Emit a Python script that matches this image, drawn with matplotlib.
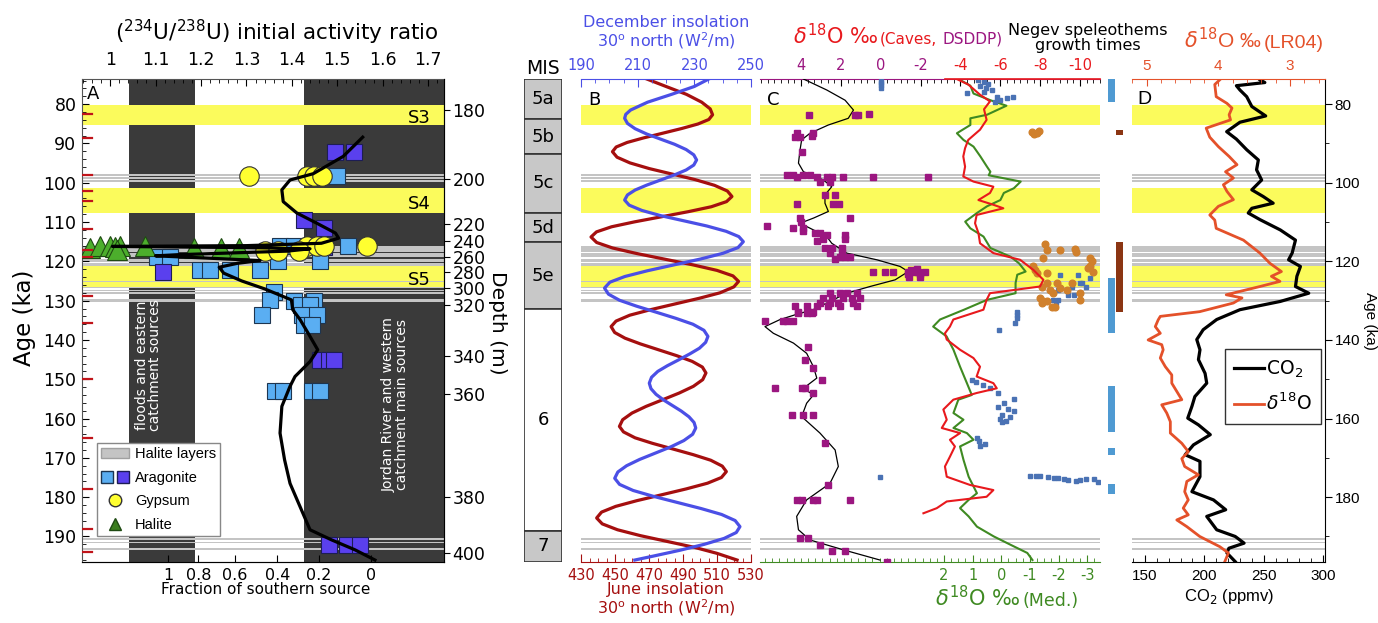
import matplotlib

matplotlib.use("Agg")
import matplotlib.pyplot as plt
import matplotlib.transforms as mtransforms
from matplotlib.legend_handler import HandlerTuple
from matplotlib.lines import Line2D
from matplotlib.patches import Patch, Rectangle
from matplotlib.ticker import MultipleLocator

plt.rcParams["font.family"] = ["DejaVu Sans"]
plt.rcParams["mathtext.fontset"] = "dejavusans"

W, H = 1378, 623
AGE_TOP, AGE_BOTTOM = 73.6, 196.5

# ---- shared layers (ka) ----
sand_layers = [(80.3, 85.4), (101.4, 107.6), (121.3, 126.5)]
sand_names = ["S3", "S4", "S5"]
halite_layers = [
    (97.8, 98.3), (98.6, 99.1), (99.4, 99.9),
    (116.1, 117.6), (117.9, 119.0), (119.3, 120.1), (120.4, 121.2),
    (124.9, 125.2), (126.5, 126.9), (127.2, 127.6), (127.9, 128.2),
    (129.6, 130.3),
    (190.3, 190.9), (191.3, 191.7), (192.9, 193.5),
]
mis_names = ["5a", "5b", "5c", "5d", "5e", "6", "7"]
mis_bounds = [73.6, 83.9, 92.6, 107.7, 115.2, 132.2, 188.6, 196.5]

# ---- panel A: (234U/238U) initial activity ratio ----
source_bands = [(1.042, 1.187), (1.427, 1.735)]
frac_labels = ["1", "0.8", "0.6", "0.4", "0.2", "0"]
frac_pos = [1.128, 1.194, 1.275, 1.368, 1.460, 1.575]
depth_labels = ["180", "200", "220", "240", "260", "280", "300", "320", "340", "360", "380", "400"]
depth_ages = [81.5, 99.0, 110.6, 114.9, 119.0, 122.8, 126.9, 131.1, 144.0, 153.7, 179.9, 194.2]
sample_ages = [82.5, 88.5, 98.0, 102.0, 104.6, 111.8, 117.0, 118.8, 128.8, 135.7, 150.0, 165.0, 178.0, 188.0, 194.0]

arag_light_age = [98.3, 116.0, 116.0, 116.0, 116.0, 118.8, 118.8, 119.8, 119.8, 122.3, 122.3, 122.3, 122.3,
                  127.7, 129.8, 130.2, 130.2, 131.1, 131.1, 133.6, 133.6, 133.6, 136.2, 136.2,
                  153.1, 153.1, 153.1, 153.1]
arag_light_ratio = [1.499, 1.374, 1.404, 1.463, 1.524, 1.103, 1.132, 1.370, 1.463, 1.198, 1.220, 1.264, 1.330,
                    1.360, 1.353, 1.404, 1.448, 1.420, 1.440, 1.334, 1.422, 1.455, 1.426, 1.444,
                    1.363, 1.381, 1.444, 1.462]
arag_dark_age = [92.2, 92.2, 109.6, 111.5, 116.4, 122.6, 145.1, 145.1, 145.1, 192.1, 192.1, 192.1]
arag_dark_ratio = [1.496, 1.536, 1.426, 1.470, 1.470, 1.117, 1.463, 1.481, 1.492, 1.481, 1.522, 1.551]
gypsum_age = [98.3, 98.3, 98.3, 98.3, 116.0, 116.0, 116.0, 116.0, 117.3, 117.3, 117.3]
gypsum_ratio = [1.305, 1.434, 1.449, 1.467, 1.434, 1.456, 1.471, 1.565, 1.340, 1.370, 1.416]
halite_age = [116.5, 116.2, 116.0, 116.3, 116.0, 117.0, 116.0, 116.6, 116.6, 116.6]
halite_ratio = [0.955, 0.978, 1.000, 1.011, 1.022, 1.015, 1.077, 1.184, 1.243, 1.283]
fit_age = [88.4, 93.3, 97.7, 99.3, 101.8, 104.8, 107.7, 110.3, 112.8, 114.1, 115.4, 116.0, 116.2, 116.5,
           116.8, 117.4, 118.3, 118.6, 119.1, 119.8, 120.5, 121.5, 123.0, 125.0, 127.0, 129.8, 132.3,
           134.8, 138.3, 142.5, 145.5, 149.3, 151.8, 156.9, 163.7, 170.5, 176.5, 182.4, 188.3, 190.9,
           193.4, 196.0]
fit_ratio = [1.556, 1.513, 1.447, 1.396, 1.378, 1.381, 1.411, 1.455, 1.496, 1.503, 1.465, 1.300, 1.005,
             1.300, 1.440, 1.390, 1.150, 1.100, 1.200, 1.330, 1.280, 1.240, 1.250, 1.290, 1.340, 1.399,
             1.402, 1.418, 1.436, 1.457, 1.440, 1.407, 1.396, 1.378, 1.374, 1.384, 1.396, 1.418, 1.440,
             1.488, 1.539, 1.583]

# ---- panel B: insolation at 30N (W/m2) ----
dec_age = [73.6, 75.5, 77.5, 79.5, 81.5, 82.6, 83.6,
           84.9, 86.25, 87.6, 88.9, 90.2, 91.55, 92.9, 94.2,
           95.5, 96.75, 98.0, 99.3, 100.6, 101.85, 103.1, 104.4,
           105.7, 107.05, 108.4, 109.7, 111.0, 112.35, 113.7, 115.0,
           116.5, 117.95, 119.4, 120.9, 122.4, 123.85, 125.3, 126.8,
           128.35, 129.9, 131.4, 132.95, 134.5, 136.0, 137.55, 139.1,
           140.6, 142.1, 143.55, 145.05, 146.55, 148.0, 149.5, 151.0,
           152.4, 153.85, 155.3, 156.7, 158.1, 159.55, 161.0, 162.4,
           164.0, 165.6, 167.2, 168.8, 170.4, 172.0, 173.6, 175.2,
           176.75, 178.3, 179.8, 181.35, 182.9, 184.4, 185.95, 187.5,
           189.0, 190.5, 192.0, 193.5, 195.0, 196.0]
dec_wm2 = [235.1, 230.0, 222.0, 213.5, 207.5, 205.8, 205.4,
           206.4, 209.1, 213.2, 218.1, 223.0, 227.1, 229.8, 230.8,
           229.8, 227.1, 223.0, 218.1, 213.2, 209.1, 206.4, 205.4,
           207.0, 211.5, 218.3, 226.4, 234.4, 241.2, 245.7, 247.3,
           245.4, 240.1, 232.2, 222.8, 213.4, 205.5, 200.2, 198.3,
           199.7, 203.6, 209.6, 216.6, 223.5, 229.5, 233.4, 234.8,
           234.0, 231.8, 228.4, 224.5, 220.5, 217.1, 214.9, 214.1,
           214.7, 216.5, 219.2, 222.3, 225.4, 228.1, 229.9, 230.5,
           229.4, 226.3, 221.7, 216.2, 210.7, 206.1, 203.0, 201.9,
           203.6, 208.4, 215.6, 224.0, 232.4, 239.6, 244.4, 246.1,
           244.8, 240.5, 233.5, 225.0, 215.5, 209.0]
jun_age = [73.6, 75.5, 77.5, 79.5, 81.2, 82.7,
           83.9, 85.05, 86.2, 87.4, 88.6, 89.75, 90.9, 92.1,
           93.5, 94.95, 96.4, 97.8, 99.2, 100.65, 102.1, 103.5,
           104.8, 106.1, 107.35, 108.65, 109.95, 111.2, 112.5, 113.8,
           115.2, 116.6, 118.0, 119.45, 120.9, 122.3, 123.7, 125.1,
           126.5, 128.0, 129.4, 130.85, 132.3, 133.7, 135.2, 136.6,
           138.1, 139.55, 141.0, 142.5, 144.0, 145.45, 146.9, 148.4,
           150.1, 151.8, 153.5, 155.2, 156.9, 158.6, 160.3, 162.0,
           163.4, 164.9, 166.3, 167.75, 169.2, 170.6, 172.1, 173.5,
           175.0, 176.45, 177.9, 179.4, 180.9, 182.35, 183.8, 185.3,
           186.8, 188.3, 189.8, 191.3, 192.8, 194.3, 196.0]
jun_wm2 = [468.7, 480.0, 492.0, 501.0, 506.0, 507.4,
           505.2, 498.8, 489.2, 478.0, 466.7, 457.1, 450.7, 448.5,
           451.2, 458.8, 470.2, 483.7, 497.1, 508.5, 516.1, 518.8,
           515.6, 506.7, 493.2, 477.4, 461.5, 448.0, 439.1, 435.9,
           439.2, 448.6, 462.7, 479.3, 495.9, 510.0, 519.4, 522.7,
           519.9, 511.8, 499.5, 485.2, 470.9, 458.7, 450.6, 447.7,
           449.8, 455.9, 464.9, 475.6, 486.3, 495.4, 501.4, 503.5,
           501.6, 496.1, 487.8, 478.1, 468.3, 460.0, 454.5, 452.6,
           455.0, 461.8, 472.0, 484.1, 496.1, 506.3, 513.1, 515.5,
           512.6, 504.4, 491.9, 477.4, 462.8, 450.4, 442.1, 439.2,
           442.5, 451.5, 465.0, 481.0, 497.0, 510.0, 521.8]

# ---- panel C: d18O records (per mil) ----
caves_age = [73.6, 75.0, 77.6, 79.3, 81.3, 84.0, 86.5, 89.1, 91.2, 93.3, 95.9, 98.4, 99.7, 101.0, 102.6,
             104.4, 105.6, 106.5, 108.2, 110.3, 112.8, 115.4, 117.9, 119.6, 122.2, 124.7, 126.4, 128.1,
             129.8, 132.3, 134.8, 136.6, 138.3, 139.9, 142.5, 144.6, 146.8, 149.3, 151.0, 152.3, 153.5,
             155.2, 157.7, 160.3, 162.4, 163.7, 165.4, 167.1, 169.7, 172.2, 174.8, 176.9, 178.2, 179.9,
             181.1, 182.8, 184.1]
caves_d18o = [-3.81, -4.39, -4.98, -5.48, -5.18, -5.31, -4.98, -4.39, -4.23, -4.14, -4.23, -4.14, -4.65,
              -5.65, -5.48, -4.90, -5.65, -6.15, -4.81, -4.73, -4.90, -4.98, -5.65, -6.99, -7.66, -8.16,
              -7.99, -5.48, -5.31, -5.15, -3.64, -3.47, -3.22, -3.31, -3.98, -4.65, -4.98, -4.81, -5.65,
              -5.82, -4.81, -3.64, -3.14, -3.31, -3.06, -3.98, -3.47, -3.72, -3.47, -3.22, -3.31, -4.48,
              -5.65, -5.31, -3.31, -2.81, -2.14]
med_age = [73.6, 75.3, 77.3, 79.0, 80.4, 82.7, 83.6, 85.3, 87.4, 89.1, 90.8, 93.3, 95.9, 97.2, 98.1, 99.7,
           101.4, 102.6, 104.4, 106.0, 107.7, 109.9, 111.6, 113.7, 116.6, 118.8, 120.5, 122.6, 123.4,
           125.5, 128.1, 129.8, 132.3, 134.8, 136.6, 139.1, 142.5, 146.8, 151.0, 154.0, 155.2, 158.6,
           160.3, 162.4, 163.7, 165.4, 167.1, 170.5, 174.8, 179.0, 180.7, 182.8, 184.9, 187.5, 190.0,
           192.1, 194.2, 196.0]
med_d18o = [1.50, 1.08, 0.97, 0.38, -0.18, 0.50, 1.08, 1.08, 1.55, 1.32, 0.97, 0.73, 0.50, 0.38, 0.44,
            -0.68, -0.44, -0.09, 0.03, 0.50, 0.85, 1.26, 1.08, 0.62, 0.38, -0.32, -0.62, -0.85, -0.56,
            -0.50, -0.50, 0.50, 1.30, 2.14, 2.38, 1.91, 1.67, 1.44, 1.20, 1.03, 1.50, 1.67, 1.32, 1.67,
            1.20, 0.97, 1.44, 1.32, 1.14, 0.85, 1.14, 1.44, 1.14, 0.85, 0.26, -0.32, -0.91, -1.09]
dsddp_age = [82.7, 82.7, 82.7, 82.4, 87.4, 87.4, 88.4, 88.4, 88.0, 92.1,
             98.0, 98.0, 98.0, 98.0, 98.6, 98.6, 98.6, 98.6, 98.6, 98.6, 98.6, 99.7, 99.7,
             103.1, 103.1, 105.4, 105.4, 105.4,
             109.0, 109.0, 109.9, 111.0, 111.6, 111.6, 112.4, 112.8, 112.8, 113.4, 113.4, 114.3, 114.3, 114.9,
             116.6, 116.6, 116.6, 117.9, 117.9, 118.8, 118.8, 118.8, 119.4,
             122.8, 122.8, 122.8, 122.6, 122.6, 122.6, 122.6, 123.3, 123.3, 122.2, 124.0, 124.0, 121.9,
             128.1, 128.1, 128.1, 128.1, 129.3, 129.3, 129.3, 129.3, 129.3, 130.6, 130.6, 130.6, 130.6,
             131.4, 131.4, 131.4, 131.4, 131.4, 131.4, 132.8, 132.8, 132.8,
             133.2, 133.2, 133.2, 135.3, 135.3, 135.3, 135.3,
             141.7, 145.1, 147.2, 150.2, 152.3, 152.3, 152.3, 153.5, 159.1, 159.1, 159.1, 166.3, 176.9,
             180.7, 180.7, 180.7, 180.7, 180.7, 190.4, 190.4, 192.1, 193.8, 193.8, 196.4]
dsddp_d18o = [3.60, 1.29, 1.12, 0.59, 3.38, 4.22, 4.30, 4.05, 3.46, 3.93,
              4.72, 4.38, 3.88, 3.55, 4.22, 3.21, 2.71, 2.46, 1.88, 0.37, -2.39, 3.05, 2.55,
              2.29, 2.80, 4.18, 2.38, 2.09,
              1.54, 4.05, 4.00, 5.72, 4.38, 3.88, 3.88, 3.30, 3.05, 2.71, 1.79, 2.88, 1.79, 3.21,
              2.80, 2.46, 1.96, 2.55, 1.96, 2.04, 1.79, 1.54, 2.30,
              0.37, -0.21, -0.63, -1.38, -1.64, -1.89, -2.22, -1.38, -1.97, -1.50, -1.40, -1.97, -1.80,
              2.55, 2.04, 1.71, 1.21, 2.88, 2.46, 1.88, 1.46, 1.04, 3.05, 2.55, 2.13, 1.37,
              4.30, 3.72, 3.21, 2.63, 2.04, 1.21, 4.13, 3.63, 3.38,
              4.13, 3.72, 3.46, 5.81, 4.89, 4.72, 4.38,
              3.63, 3.80, 3.38, 2.96, 5.30, 3.97, 3.80, 3.38, 4.47, 3.88, 3.38, 2.80, 2.63,
              4.22, 3.97, 3.38, 3.21, 1.54, 4.05, 3.63, 3.05, 2.46, 1.79, -0.30]
dsddp_fit_age = [73.6, 76.4, 79.0, 81.5, 83.6, 85.3, 87.4, 89.1, 91.6, 95.0, 97.2, 99.3, 101.0, 103.1,
                 105.2, 107.3, 109.0, 110.3, 112.0, 113.7, 115.4, 117.9, 119.6, 121.3, 122.6, 124.7, 126.4,
                 128.1, 130.6, 132.3, 133.6, 134.8, 136.6, 138.3, 140.8, 143.4, 146.8, 149.7, 152.3, 154.0,
                 156.1, 159.5, 163.7, 168.0, 172.2, 176.5, 180.7, 184.9, 188.3, 190.9, 193.4, 196.0]
dsddp_fit = [3.88, 2.71, 1.79, 1.37, 1.63, 2.63, 3.55, 3.97, 4.05, 4.13, 3.88, 2.88, 2.46, 2.80, 2.80, 2.63,
             3.38, 4.05, 3.38, 2.71, 2.46, 1.71, 0.20, -0.97, -1.38, -0.72, 0.54, 1.71, 2.71, 3.40, 4.30,
             5.05, 5.81, 5.39, 4.38, 3.72, 3.38, 3.21, 3.88, 3.38, 3.72, 3.97, 3.05, 2.29, 2.13, 2.55,
             3.72, 4.22, 4.13, 3.55, 1.88, 0.04]
soreq_age = [74.0, 74.6, 75.2, 75.8,
             73.9, 74.3, 74.8, 75.3, 75.9, 76.3, 76.8, 77.2, 78.1, 78.4, 78.1, 79.0, 79.4,
             123.4, 123.4, 124.3, 125.6, 125.6, 126.4, 126.4, 127.3, 128.5, 128.5, 129.8, 129.8, 130.6,
             132.8, 133.6, 134.4, 135.7, 137.4,
             150.2, 150.8, 151.5, 152.3,
             153.5, 155.0, 156.0, 157.0, 157.5, 158.0, 159.0, 159.5, 160.0, 160.5, 161.0,
             165.0, 165.8, 166.5, 167.0, 174.8,
             174.5, 174.6, 174.7, 174.8, 175.0, 175.2, 175.3, 175.6, 175.8, 175.6, 175.3, 175.3, 176.2]
soreq_d18o = [0.0, 0.0, 0.0, 0.0,
              -4.9, -5.2, -5.4, -5.0, -5.3, -5.6, -5.2, -4.31, -5.82, -6.32, -6.62, -5.98, -5.73,
              -9.0, -9.9, -10.5, -10.0, -10.1, -9.6, -10.3, -8.9, -9.4, -9.7, -8.66, -8.9, -8.8,
              -6.82, -6.82, -6.82, -6.74, -5.95,
              -4.56, -4.8, -5.15, -5.48,
              -5.9, -6.7, -6.2, -5.9, -6.4, -6.7, -6.1, -6.5, -6.0, -6.3, -6.1,
              -4.81, -4.95, -5.23, -5.0, 0.04,
              -7.5, -7.8, -8.0, -8.4, -8.7, -8.9, -9.2, -9.4, -9.8, -10.0, -10.3, -10.7, -10.9]
negev_age = [87.1, 87.4, 86.9, 87.6,
             115.5, 117.2, 117.2, 116.8, 117.6, 119.2, 119.2, 120.0,
             121.3, 121.3, 122.2, 123.0, 123.0, 122.6, 121.8,
             125.6, 125.6, 125.6, 126.4, 127.3, 128.1, 126.8, 127.3, 128.1,
             129.4, 130.2, 130.2, 131.5, 131.5, 129.8, 130.6]
negev_d18o = [-7.57, -7.82, -7.95, -7.70,
              -8.24, -8.32, -9.0, -9.74, -9.82, -8.16, -10.5, -10.6,
              -7.66, -10.5, -7.74, -7.82, -8.32, -10.67, -10.4,
              -8.32, -8.83, -9.58, -8.07, -8.49, -8.66, -8.99, -9.33, -10.0,
              -7.99, -8.16, -8.32, -8.57, -8.74, -10.0, -8.1]
growth_blue = [(73.7, 79.5), (124.3, 138.3), (151.7, 163.3), (167.5, 169.2), (176.7, 179.2)]
growth_brown = [(86.7, 87.8), (115.0, 132.8)]

# ---- panel D: CO2 and LR04 ----
co2_age = [73.8, 74.5, 75.3, 76.4, 78.1, 80.6, 83.0, 84.6, 87.0, 88.9, 91.6, 94.2, 96.7, 99.3, 101.8,
           103.5, 105.2, 106.5, 107.7, 109.4, 112.0, 114.6, 117.9, 119.6, 121.3, 123.8, 126.4, 128.1,
           130.2, 132.3, 134.8, 137.4, 139.9, 142.5, 145.0, 148.5, 151.0, 154.4, 156.9, 159.9, 161.6,
           164.1, 166.7, 169.2, 170.9, 174.8, 178.6, 180.7, 183.2, 184.9, 188.3, 190.0, 191.7, 193.0,
           194.2, 196.4]
co2_ppmv = [246.9, 251.0, 227.0, 230.0, 235.7, 240.0, 251.7, 230.0, 218.8, 227.0, 235.7, 245.5, 244.0,
            248.3, 240.0, 249.6, 258.0, 240.0, 237.0, 247.0, 264.0, 276.8, 274.0, 271.0, 281.0, 278.0,
            276.8, 288.0, 264.0, 230.0, 210.4, 199.0, 193.6, 196.3, 195.0, 200.6, 202.0, 192.0, 189.5,
            186.0, 195.0, 205.0, 190.8, 183.8, 196.3, 196.3, 189.5, 207.7, 218.0, 202.0, 210.4, 226.0,
            233.5, 220.7, 219.0, 226.0]
lr04_age = [73.8, 75.0, 78.1, 79.8, 81.0, 82.7, 84.0, 86.1, 88.4, 90.8, 93.3, 95.4, 97.2, 98.8, 100.5,
            102.2, 104.3, 106.0, 108.2, 109.5, 111.6, 114.6, 117.9, 120.5, 122.6, 123.8, 125.1, 126.4,
            128.5, 129.3, 130.6, 132.8, 134.0, 134.9, 136.6, 138.3, 140.0, 141.2, 142.5, 144.6, 146.8,
            148.9, 151.0, 153.1, 155.2, 156.5, 158.6, 160.8, 163.7, 166.3, 168.4, 170.2, 172.2, 174.3,
            176.0, 178.6, 180.7, 182.8, 184.5, 185.8, 187.5, 190.0, 192.6, 194.2, 196.4]
lr04_d18o = [3.98, 4.05, 4.03, 3.88, 3.81, 3.85, 3.83, 4.17, 4.12, 4.00, 3.85, 3.74, 3.90, 3.79, 3.93,
             3.88, 3.79, 4.00, 4.12, 4.05, 4.03, 3.65, 3.42, 3.28, 3.12, 3.26, 3.14, 3.42, 3.89, 3.67,
             3.79, 4.26, 4.81, 4.84, 4.88, 4.81, 4.98, 4.79, 4.77, 4.81, 4.74, 4.65, 4.65, 4.58, 4.51,
             4.79, 4.72, 4.67, 4.67, 4.51, 4.42, 4.51, 4.47, 4.28, 4.44, 4.47, 4.42, 4.49, 4.42, 4.58,
             4.44, 4.26, 3.98, 3.86, 3.91]

YELLOW = "#fbfb5c"
HALITE = "#c4c4c4"
DARK = "#3a3a3a"
DEC_BLUE = "#4b4fe6"
JUN_RED = "#a50f0f"
CAVE_RED = "#e8191d"
MED_GREEN = "#3f8a22"
PURPLE = "#9b1680"
SOREQ_BLUE = "#4a72b4"
NEGEV_ORANGE = "#d0802c"
BAR_BLUE = "#4f9ad2"
BAR_BROWN = "#8b3513"
LR04_RED = "#e4512a"

fig = plt.figure(figsize=(W / 100, H / 100), dpi=100)


def fx(px):
    return px / W


def fy(py):
    return 1 - py / H


def axes_px(x0, x1, y0=79, y1=562):
    ax = fig.add_axes([fx(x0), fy(y1), (x1 - x0) / W, (y1 - y0) / H])
    ax.set_ylim(AGE_BOTTOM, AGE_TOP)
    return ax


def add_layers(ax):
    for top, bottom in sand_layers:
        ax.axhspan(top, bottom, color=YELLOW, lw=0, zorder=0.5)
    for top, bottom in halite_layers:
        ax.axhspan(top, bottom, color=HALITE, lw=0, zorder=0.6)


def hide(ax, *names):
    for name in names:
        ax.spines[name].set_visible(False)


# ================= panel A =================
ax_a = axes_px(82, 444)
ax_a.set_xlim(0.938, 1.735)
ax_ab = ax_a.twiny()
ax_ar = ax_a.twinx()

for x0, x1 in source_bands:
    ax_a.axvspan(x0, x1, color=DARK, lw=0, zorder=0.2)
add_layers(ax_a)
ax_a.plot(arag_light_ratio, arag_light_age, ls="", marker="s", ms=12, mfc="#5aaef2", mec="#1d3550",
          mew=0.8, zorder=3)
ax_a.plot(arag_dark_ratio, arag_dark_age, ls="", marker="s", ms=12, mfc="#5a40ee", mec="#1d1d55",
          mew=0.8, zorder=3.1)
ax_a.plot(gypsum_ratio, gypsum_age, ls="", marker="o", ms=14, mfc="#ffff30", mec="#333333", mew=0.8,
          zorder=3.2)
ax_a.plot(halite_ratio, halite_age, ls="", marker="^", ms=14, mfc="#4cae2c", mec="#1e4a12", mew=0.8,
          zorder=3.3)
ax_a.plot(fit_ratio, fit_age, color="black", lw=2.3, zorder=4, clip_on=False)
for (top, bottom), name in zip(sand_layers, sand_names):
    ax_a.text(1.68, (top + bottom) / 2 + 0.8, name, fontsize=13, ha="center", va="center", zorder=5)
ax_a.text(0.948, 77.5, "A", fontsize=13, ha="left", va="center", zorder=5)
ax_a.text(1.085, 146.5, "floods and eastern\ncatchment sources", color="white", rotation=90,
          fontsize=10, ha="center", va="center", linespacing=0.95, zorder=5)
ax_a.text(1.628, 156.5, "Jordan River and western\ncatchment main sources", color="white", rotation=90,
          fontsize=10, ha="center", va="center", linespacing=0.95, zorder=5)
trans = mtransforms.blended_transform_factory(ax_a.transAxes, ax_a.transData)
for age in sample_ages:
    ax_a.plot([0.004, 0.028], [age, age], color="#c0141a", lw=1.6, transform=trans, zorder=6)

ax_a.xaxis.set_ticks_position("top")
ax_a.xaxis.set_label_position("top")
ax_a.set_xticks([1.0, 1.1, 1.2, 1.3, 1.4, 1.5, 1.6, 1.7], ["1", "1.1", "1.2", "1.3", "1.4", "1.5", "1.6", "1.7"])
ax_a.xaxis.set_minor_locator(MultipleLocator(0.02))
ax_a.set_yticks(range(80, 191, 10))
ax_a.yaxis.set_minor_locator(MultipleLocator(2))
ax_a.tick_params(axis="x", which="both", direction="in", labelsize=12.5, pad=7)
ax_a.tick_params(axis="y", which="both", direction="in", labelsize=12.5, pad=4)
ax_a.tick_params(which="major", length=5)
ax_a.tick_params(which="minor", length=3)
for sp in ax_a.spines.values():
    sp.set_color("#555555")

ax_ab.set_xlim(ax_a.get_xlim())
ax_ab.xaxis.set_ticks_position("bottom")
ax_ab.set_xticks(frac_pos, frac_labels)
ax_ab.tick_params(axis="x", direction="in", length=5, labelsize=11.5, pad=4)
hide(ax_ab, "top", "left", "right")

ax_ar.set_ylim(AGE_BOTTOM, AGE_TOP)
ax_ar.set_yticks(depth_ages, depth_labels)
ax_ar.tick_params(axis="y", direction="out", length=4, labelsize=12.5, pad=2)
hide(ax_ar, "top", "left", "bottom")

fig.text(fx(277), fy(32), r"($^{234}$U/$^{238}$U) initial activity ratio", fontsize=15.5,
         ha="center", va="center")
fig.text(fx(266), fy(590), "Fraction of southern source", fontsize=11, ha="center", va="center")
fig.text(fx(24), fy(318), "Age (ka)", fontsize=16.5, rotation=90, ha="center", va="center")
fig.text(fx(498), fy(323), "Depth (m)", fontsize=14.5, rotation=270, ha="center", va="center")

arag_handle = (Line2D([], [], ls="", marker="s", ms=8, mfc="#5aaef2", mec="#1d3550"),
               Line2D([], [], ls="", marker="s", ms=8, mfc="#5a40ee", mec="#1d1d55"))
leg_a = ax_ab.legend(
    [Patch(facecolor=HALITE, edgecolor="#a0a0a0"), arag_handle,
     Line2D([], [], ls="", marker="o", ms=9, mfc="#ffff30", mec="#333333"),
     Line2D([], [], ls="", marker="^", ms=9, mfc="#3a7d1e", mec="#1e4a12")],
    ["Halite layers", "Aragonite", "Gypsum", "Halite"],
    handler_map={tuple: HandlerTuple(ndivide=None, pad=0.3)},
    loc="upper left", bbox_to_anchor=(fx(97), fy(443)), bbox_transform=fig.transFigure,
    prop={"family": "Liberation Sans", "size": 10.5}, frameon=True, fancybox=False, borderpad=0.3,
    handlelength=1.9, handletextpad=0.4, labelspacing=0.65, borderaxespad=0)
leg_a.get_frame().set_edgecolor("#888888")
leg_a.get_frame().set_alpha(1)
leg_a.set_zorder(10)

# ================= MIS column =================
ax_m = axes_px(524, 562)
ax_m.set_xlim(0, 1)
ax_m.set_axis_off()
for name, top, bottom in zip(mis_names, mis_bounds[:-1], mis_bounds[1:]):
    face = "white" if name == "6" else "#c8c8c8"
    ax_m.add_patch(Rectangle((0, top), 1, bottom - top, facecolor=face, edgecolor="#333333", lw=1.2))
    ax_m.text(0.5, (top + bottom) / 2, name, fontsize=13, ha="center", va="center")
fig.text(fx(543), fy(68), "MIS", fontsize=13.5, ha="center", va="center")

# ================= panel B =================
ax_b = axes_px(581, 751)
ax_b.set_xlim(430, 530)
ax_bt = ax_b.twiny()
add_layers(ax_b)
ax_b.plot(jun_wm2, jun_age, color=JUN_RED, lw=2.3, zorder=3)
ax_b.set_xticks(range(430, 531, 20))
ax_b.xaxis.set_minor_locator(MultipleLocator(5))
ax_b.tick_params(axis="x", which="both", direction="in", colors=JUN_RED, labelsize=10.5, pad=4)
ax_b.tick_params(axis="x", which="major", length=6)
ax_b.tick_params(axis="x", which="minor", length=3)
ax_b.tick_params(axis="y", left=False, labelleft=False)
hide(ax_b, "top", "left", "right")
ax_b.spines["bottom"].set_color(JUN_RED)
ax_b.text(0.04, 0.975, "B", transform=ax_b.transAxes, fontsize=13, ha="left", va="top")

ax_bt.set_xlim(190, 250)
ax_bt.plot(dec_wm2, dec_age, color=DEC_BLUE, lw=2.3, zorder=3)
ax_bt.set_xticks(range(190, 251, 20))
ax_bt.xaxis.set_minor_locator(MultipleLocator(5))
ax_bt.tick_params(axis="x", which="both", direction="in", colors=DEC_BLUE, labelsize=10.5, pad=4)
ax_bt.tick_params(axis="x", which="major", length=6)
ax_bt.tick_params(axis="x", which="minor", length=3)
hide(ax_bt, "bottom", "left", "right")
ax_bt.spines["top"].set_color(DEC_BLUE)

fig.text(fx(666), fy(33), "December insolation\n30$^{\\mathrm{o}}$ north (W$^{2}$/m)", color=DEC_BLUE,
         fontsize=11.5, ha="center", va="center", linespacing=1.05)
fig.text(fx(666), fy(600), "June insolation\n30$^{\\mathrm{o}}$ north (W$^{2}$/m)", color=JUN_RED,
         fontsize=11.5, ha="center", va="center", linespacing=1.05)

# ================= panel C =================
ax_c = axes_px(760, 1100)
ax_c.set_xlim(8.43, -3.45)
ax_ct = ax_c.twiny()
add_layers(ax_c)
ax_c.plot(med_d18o, med_age, color=MED_GREEN, lw=1.5, zorder=3)
ax_c.set_xticks([2, 1, 0, -1, -2, -3], ["2", "1", "0", "-1", "-2", "-3"])
ax_c.xaxis.set_minor_locator(MultipleLocator(0.25))
ax_c.tick_params(axis="x", which="both", direction="in", colors=MED_GREEN, labelsize=10.5, pad=4)
ax_c.tick_params(axis="x", which="major", length=5)
ax_c.tick_params(axis="x", which="minor", length=3)
ax_c.tick_params(axis="y", left=False, labelleft=False)
hide(ax_c, "top", "left", "right")
ax_c.spines["bottom"].set_color(MED_GREEN)

ax_ct.set_xlim(6.06, -11.0)
ax_ct.plot(dsddp_fit, dsddp_fit_age, color="black", lw=0.9, zorder=3)
ax_ct.plot(dsddp_d18o, dsddp_age, ls="", marker="s", ms=4, color=PURPLE, zorder=3.1)
ax_ct.plot(caves_d18o, caves_age, color=CAVE_RED, lw=1.5, zorder=3.5)
ax_ct.plot(soreq_d18o, soreq_age, ls="", marker="s", ms=3.2, color=SOREQ_BLUE, zorder=3.2)
ax_ct.plot(negev_d18o, negev_age, ls="", marker="o", ms=4.8, color=NEGEV_ORANGE, zorder=3.3)
top_ticks = [4, 2, 0, -2, -4, -6, -8, -10]
ax_ct.set_xticks(top_ticks, [str(t) for t in top_ticks])
ax_ct.xaxis.set_minor_locator(MultipleLocator(1 / 3))
ax_ct.tick_params(axis="x", which="both", direction="in", labelsize=10.5, pad=4)
ax_ct.tick_params(axis="x", which="major", length=5)
ax_ct.tick_params(axis="x", which="minor", length=3)
hide(ax_ct, "bottom", "left", "right")
ax_ct.spines["top"].set_color(PURPLE)
for loc, tick in zip(ax_ct.get_xticks(), ax_ct.xaxis.get_major_ticks()):
    c = CAVE_RED if loc < -3 else PURPLE
    tick.tick2line.set_color(c)
    tick.label2.set_color(c)
minor_locs = ax_ct.xaxis.get_minorticklocs()
for loc, tick in zip(minor_locs, ax_ct.xaxis.get_minor_ticks(len(minor_locs))):
    tick.tick2line.set_color(CAVE_RED if loc < -3.2 else PURPLE)
split = mtransforms.blended_transform_factory(ax_ct.transData, ax_ct.transAxes)
ax_ct.plot([-3.2, -11.0], [1, 1], color=CAVE_RED, lw=1.2, transform=split, clip_on=False, zorder=6)
ax_ct.text(0.02, 0.975, "C", transform=ax_ct.transAxes, fontsize=13, ha="left", va="top")

fig.text(fx(793), fy(44), r"$\delta^{18}$O ‰", color=CAVE_RED, fontsize=15, ha="left", va="baseline")
fig.text(fx(880), fy(44), "(Caves,", color=CAVE_RED, fontsize=11, ha="left", va="baseline")
fig.text(fx(943), fy(44), "DSDDP)", color=PURPLE, fontsize=11, ha="left", va="baseline")
fig.text(fx(1088), fy(38), "Negev speleothems\ngrowth times", fontsize=11.5, ha="center", va="center",
         linespacing=1.0)
fig.text(fx(1020), fy(606), r"$\delta^{18}$O ‰", color=MED_GREEN, fontsize=15, ha="right", va="baseline")
fig.text(fx(1023), fy(606), "(Med.)", color=MED_GREEN, fontsize=12.5, ha="left", va="baseline")

# ================= growth bars =================
ax_g = axes_px(1104, 1124)
ax_g.set_xlim(0, 1)
ax_g.set_axis_off()
for top, bottom in growth_blue:
    ax_g.bar(0.37, bottom - top, bottom=top, width=0.36, color=BAR_BLUE, lw=0)
for top, bottom in growth_brown:
    ax_g.bar(0.78, bottom - top, bottom=top, width=0.36, color=BAR_BROWN, lw=0)

# ================= panel D =================
ax_d = axes_px(1132, 1325)
ax_d.set_xlim(139, 301.7)
ax_dt = ax_d.twiny()
add_layers(ax_d)
ax_d.plot(co2_ppmv, co2_age, color="black", lw=2.3, zorder=3)
ax_d.set_xticks([150, 200, 250, 300])
ax_d.xaxis.set_minor_locator(MultipleLocator(10))
ax_d.yaxis.tick_right()
ax_d.yaxis.set_label_position("right")
ax_d.set_yticks(range(80, 181, 20))
ax_d.yaxis.set_minor_locator(MultipleLocator(10))
ax_d.tick_params(axis="x", which="both", direction="in", labelsize=11, pad=5)
ax_d.tick_params(axis="y", which="both", direction="out", labelsize=11, pad=2)
ax_d.tick_params(which="major", length=5)
ax_d.tick_params(which="minor", length=3)
ax_d.set_ylabel("Age (ka)", rotation=270, fontsize=11, labelpad=12, family="Liberation Sans")
hide(ax_d, "top", "left")
ax_d.text(0.03, 0.975, "D", transform=ax_d.transAxes, fontsize=14, ha="left", va="top",
          family="Liberation Sans")

ax_dt.set_xlim(5.205, 2.512)
ax_dt.plot(lr04_d18o, lr04_age, color=LR04_RED, lw=2.0, zorder=3)
ax_dt.set_xticks([5, 4, 3])
ax_dt.xaxis.set_minor_locator(MultipleLocator(0.2))
ax_dt.tick_params(axis="x", which="both", direction="in", colors=LR04_RED, labelsize=11, pad=4)
ax_dt.tick_params(axis="x", which="major", length=5)
ax_dt.tick_params(axis="x", which="minor", length=3)
hide(ax_dt, "bottom", "left", "right")
ax_dt.spines["top"].set_color(LR04_RED)
for lab in ax_d.get_xticklabels() + ax_d.get_yticklabels() + ax_dt.get_xticklabels():
    lab.set_family("Liberation Sans")

leg_d = ax_dt.legend(
    [Line2D([], [], color="black", lw=2.3), Line2D([], [], color=LR04_RED, lw=2.0)],
    ["CO$_2$", r"$\delta^{18}$O"],
    loc="upper left", bbox_to_anchor=(fx(1225), fy(349)), bbox_transform=fig.transFigure,
    fontsize=13.5, frameon=True, fancybox=False, handlelength=1.6, handletextpad=0.1,
    borderpad=0.5, labelspacing=0.7, borderaxespad=0)
leg_d.get_frame().set_edgecolor("#333333")
leg_d.get_frame().set_alpha(1)

fig.text(fx(1262), fy(48), r"$\delta^{18}$O ‰", color=LR04_RED, fontsize=15, ha="right", va="baseline",
         family="Liberation Sans")
fig.text(fx(1264), fy(48), "(LR04)", color=LR04_RED, fontsize=14, ha="left", va="baseline",
         family="Liberation Sans")
fig.text(fx(1229), fy(596), "CO$_2$ (ppmv)", fontsize=12, ha="center", va="center",
         family="Liberation Sans")

fig.savefig("out.png", dpi=100)
